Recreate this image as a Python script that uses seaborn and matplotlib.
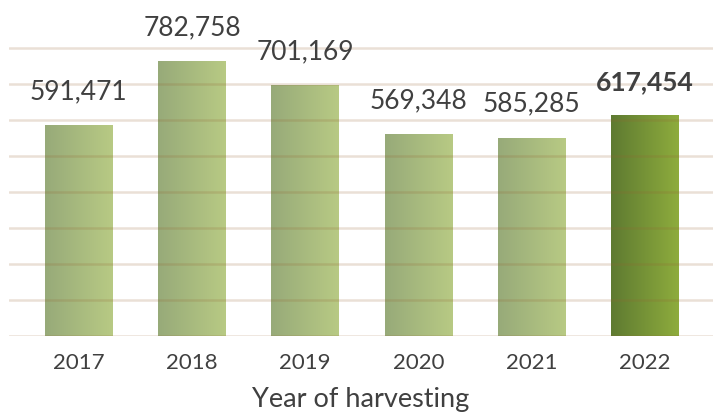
import numpy as np
import pandas as pd
import matplotlib
matplotlib.use("Agg")
import matplotlib.pyplot as plt
import seaborn as sns
from matplotlib.colors import LinearSegmentedColormap

years = ["2017", "2018", "2019", "2020", "2021", "2022"]
bar_heights = [586, 764, 697, 561, 551, 614]  # drawn heights (thousands)
value_labels = ["591,471", "782,758", "701,169", "569,348", "585,285", "617,454"]
highlight = "2022"

sns.set_theme(style="white")
plt.rcParams['font.family'] = ['Lato', 'DejaVu Sans']

df = pd.DataFrame({"year": years, "height": bar_heights})

fig = plt.figure(figsize=(7.13, 4.17), dpi=100)
ax = fig.add_axes([9 / 713, 81 / 417, 1 - 9 / 713, 336 / 417])

sns.barplot(data=df, x="year", y="height", ax=ax, width=0.6, color="#a8bb80",
            saturation=1, zorder=2)

ax.set_yticks(np.arange(0, 801, 100))
ax.yaxis.grid(True, color=(150 / 255, 100 / 255, 50 / 255), linewidth=1.8, alpha=0.2, zorder=3)
ax.set_axisbelow(False)
ax.tick_params(axis="y", left=False, labelleft=False)
for s in ax.spines.values():
    s.set_visible(False)

cm_normal = LinearSegmentedColormap.from_list("n", ["#97aa79", "#b8ca84"])
cm_high = LinearSegmentedColormap.from_list("h", ["#5e7a31", "#8eac3d"])
grad = np.linspace(0, 1, 256).reshape(1, -1)

for patch, yr, lab in zip(ax.patches, years, value_labels):
    x0, y0 = patch.get_x(), patch.get_y()
    w, h = patch.get_width(), patch.get_height()
    cmap = cm_high if yr == highlight else cm_normal
    im = ax.imshow(grad, cmap=cmap, aspect="auto", extent=[x0, x0 + w, y0, y0 + h],
                   zorder=2.5, interpolation="bicubic")
    im.set_clip_path(patch)
    patch.set_alpha(0)
    bold = yr == highlight
    ax.annotate(lab, (x0 + w / 2, y0 + h), xytext=(0, 15), textcoords="offset points",
                ha="center", va="bottom", fontsize=19, color="#404040",
                fontweight="bold" if bold else "normal", zorder=5)

ax.set_xlim(-0.615, 5.6)
ax.set_ylim(0, 933)
ax.set_ylabel("")
ax.set_xlabel("Year of harvesting", fontsize=19.5, color="#404040", labelpad=10)
ax.tick_params(axis="x", bottom=False, labelsize=16, labelcolor="#404040", pad=6)

fig.savefig("out.png", dpi=100)
